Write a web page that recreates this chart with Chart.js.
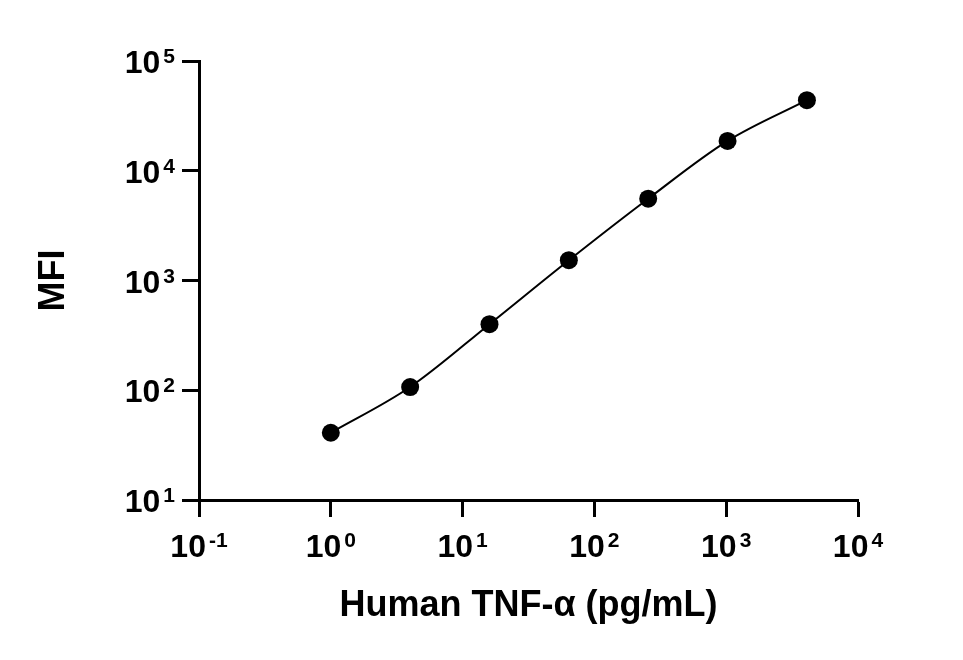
<!DOCTYPE html>
<html>
<head>
<meta charset="utf-8">
<script src="https://cdn.jsdelivr.net/npm/chart.js@4.4.1/dist/chart.umd.min.js"></script>
<style>
  html, body { margin: 0; padding: 0; background: #fff; }
</style>
</head>
<body>
<canvas id="tnfChart" width="963" height="660"></canvas>
<script>
// Standard curve: 4-fold dilutions of human TNF-alpha
const concentrations = [1, 4, 16, 64, 256, 1024, 4096];
const mfiValues = [41, 107, 400, 1530, 5560, 18700, 44000];

// Decade ticks (exponents of 10)
const xTickExponents = [-1, 0, 1, 2, 3, 4];
const yTickExponents = [1, 2, 3, 4, 5];

const FONT = '"Liberation Sans", Arial, sans-serif';

// draws "10" with a superscript exponent at each decade tick
const tickLabels = {
  id: "tickLabels",
  afterDraw(chart) {
    const ctx = chart.ctx;
    const xs = chart.scales.x;
    const ys = chart.scales.y;
    ctx.save();
    ctx.fillStyle = "#000";
    ctx.textBaseline = "alphabetic";
    ctx.textAlign = "left";

    const draw = (exp, x, y, align) => {
      const supText = String(exp);
      ctx.font = "bold 32px " + FONT;
      const w1 = ctx.measureText("10").width;
      ctx.font = "bold 21px " + FONT;
      const w2 = ctx.measureText(supText).width;
      const gap = 3;
      const total = w1 + gap + w2;
      const left = align === "center" ? x - total / 2 : x - total;
      ctx.font = "bold 32px " + FONT;
      ctx.fillText("10", left, y);
      ctx.font = "bold 21px " + FONT;
      ctx.fillText(supText, left + w1 + gap, y - 10);
    };

    xTickExponents.forEach((e) =>
      draw(e, xs.getPixelForValue(Math.pow(10, e)), xs.top + 57, "center")
    );
    yTickExponents.forEach((e) =>
      draw(e, ys.right - 24, ys.getPixelForValue(Math.pow(10, e)) + 12, "right")
    );
    ctx.restore();
  },
};

const axisStyle = {
  grid: {
    drawOnChartArea: false,
    drawTicks: true,
    tickLength: 17,
    tickWidth: 3,
    color: "#000",
  },
  border: { color: "#000", width: 3 },
  ticks: { display: false },
};

new Chart(document.getElementById("tnfChart").getContext("2d"), {
  type: "line",
  data: {
    datasets: [
      {
        data: concentrations.map((c, i) => ({ x: c, y: mfiValues[i] })),
        borderColor: "#000",
        borderWidth: 2,
        backgroundColor: "#000",
        pointRadius: 9,
        pointBorderWidth: 0,
        cubicInterpolationMode: "monotone",
        fill: false,
      },
    ],
  },
  plugins: [tickLabels],
  options: {
    responsive: false,
    animation: false,
    devicePixelRatio: 1,
    layout: { padding: { top: 61, right: 105, left: 0, bottom: 0 } },
    plugins: {
      legend: { display: false },
      tooltip: { enabled: false },
    },
    scales: {
      x: {
        ...axisStyle,
        type: "logarithmic",
        position: "bottom",
        min: 0.1,
        max: 10000,
        afterBuildTicks: (scale) => {
          scale.ticks = xTickExponents.map((e) => ({ value: Math.pow(10, e) }));
        },
        afterFit: (scale) => {
          scale.height = 160;
        },
        title: {
          display: true,
          text: "Human TNF-α (pg/mL)",
          color: "#000",
          font: { family: FONT, size: 36, weight: "bold" },
          padding: { top: 0, bottom: 32 },
        },
      },
      y: {
        ...axisStyle,
        type: "logarithmic",
        position: "left",
        min: 10,
        max: 100000,
        afterBuildTicks: (scale) => {
          scale.ticks = yTickExponents.map((e) => ({ value: Math.pow(10, e) }));
        },
        afterFit: (scale) => {
          scale.width = 199;
        },
        title: {
          display: true,
          text: "MFI",
          color: "#000",
          font: { family: FONT, size: 36, weight: "bold" },
          padding: { top: 32, bottom: 0 },
        },
      },
    },
  },
});
</script>
</body>
</html>
